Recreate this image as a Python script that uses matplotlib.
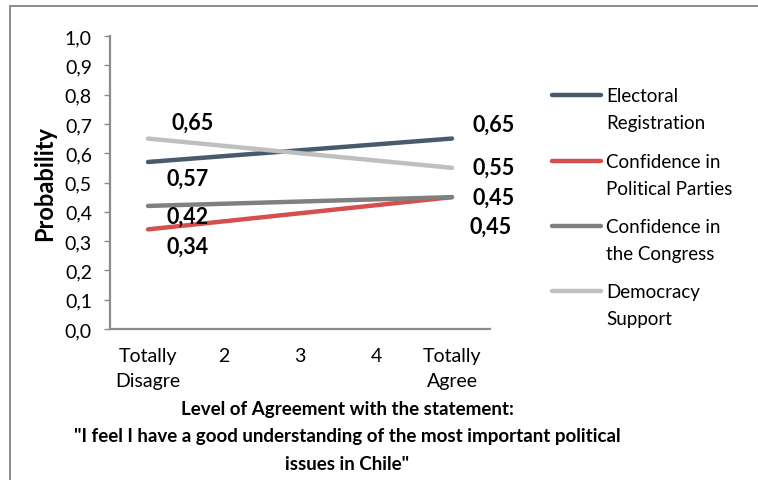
import matplotlib
matplotlib.use("Agg")
import matplotlib.pyplot as plt
from matplotlib.lines import Line2D
from matplotlib.patches import Rectangle

# data (only the two end points are shown there)
levels = [1, 2, 3, 4, 5]
level_labels = ["Totally\nDisagre", "2", "3", "4", "Totally\nAgree"]
end_levels = [1, 5]
series_names = ["Electoral\nRegistration", "Confidence in\nPolitical Parties",
                "Confidence in\nthe Congress", "Democracy\nSupport"]
electoral = [0.57, 0.65]
parties = [0.34, 0.45]
congress = [0.42, 0.45]
democracy = [0.65, 0.55]
yticks = [0.0, 0.1, 0.2, 0.3, 0.4, 0.5, 0.6, 0.7, 0.8, 0.9, 1.0]

colors = ["#4a5a6d", "#d64f4f", "#808080", "#bfbfbf"]
all_series = [electoral, parties, congress, democracy]

plt.rcParams['font.family'] = ['Lato', 'DejaVu Sans']

W, H = 758, 481
fig = plt.figure(figsize=(W / 100, H / 100), dpi=100)

# outer chart frame (only left/top visible in the reference)
fig.add_artist(Rectangle((10 / W, -0.1), 1.2, (H - 7) / H + 0.1, transform=fig.transFigure,
                         fill=False, edgecolor="#8c8c8c", linewidth=1.4))

ax = fig.add_axes([110 / W, 1 - 330 / H, 380 / W, (330 - 37) / H])

for vals, c in zip(all_series, colors):
    ax.plot(end_levels, vals, color=c, linewidth=3.2, solid_capstyle="round")

ax.set_xlim(0.5, 5.5)
ax.set_ylim(0, 1.0)
ax.set_yticks(yticks)
ax.set_yticklabels([f"{v:.1f}".replace(".", ",") for v in yticks], fontsize=14)
ax.set_xticks(levels)
ax.set_xticklabels(level_labels, fontsize=14, linespacing=1.6)
ax.tick_params(axis="y", length=4, width=1, color="#8c8c8c", pad=9)
ax.tick_params(axis="x", length=0, pad=13)
for s in ["top", "right"]:
    ax.spines[s].set_visible(False)
for s in ["left", "bottom"]:
    ax.spines[s].set_color("#8c8c8c")
    ax.spines[s].set_linewidth(1.6)

ax.set_ylabel("Probability", fontsize=17, fontweight="bold", labelpad=6)

# data labels (offsets in pixels)
left_offsets = [(40, -16), (40, -17), (40, -10), (45, 16)]
right_offsets = [(42, 14), (39, -29), (42, 0), (42, 1)]
for vals, lo, ro in zip(all_series, left_offsets, right_offsets):
    ax.annotate(f"{vals[0]:.2f}".replace(".", ","), (end_levels[0], vals[0]), xytext=lo,
                textcoords="offset pixels", ha="center", va="center",
                fontsize=15.5, fontweight="bold")
    ax.annotate(f"{vals[-1]:.2f}".replace(".", ","), (end_levels[-1], vals[-1]), xytext=ro,
                textcoords="offset pixels", ha="center", va="center",
                fontsize=15.5, fontweight="bold")

# legend drawn by hand to keep handle aligned with first text line
leg_y = [96, 162, 227, 292]
for name, c, y in zip(series_names, colors, leg_y):
    fig.add_artist(Line2D([552 / W, 601 / W], [1 - y / H, 1 - y / H], color=c,
                          linewidth=3.2, solid_capstyle="round", transform=fig.transFigure))
    fig.text(606 / W, 1 - (y - 8) / H, name, fontsize=13.5, va="top", ha="left",
             linespacing=1.7)

fig.text(347 / W, 1 - 401 / H,
         "Level of Agreement with the statement:\n"
         "\"I feel I have a good understanding of the most important political\n"
         "issues in Chile\"",
         fontsize=13.5, fontweight="bold", ha="center", va="top", linespacing=1.75)

fig.savefig("out.png", dpi=100)
